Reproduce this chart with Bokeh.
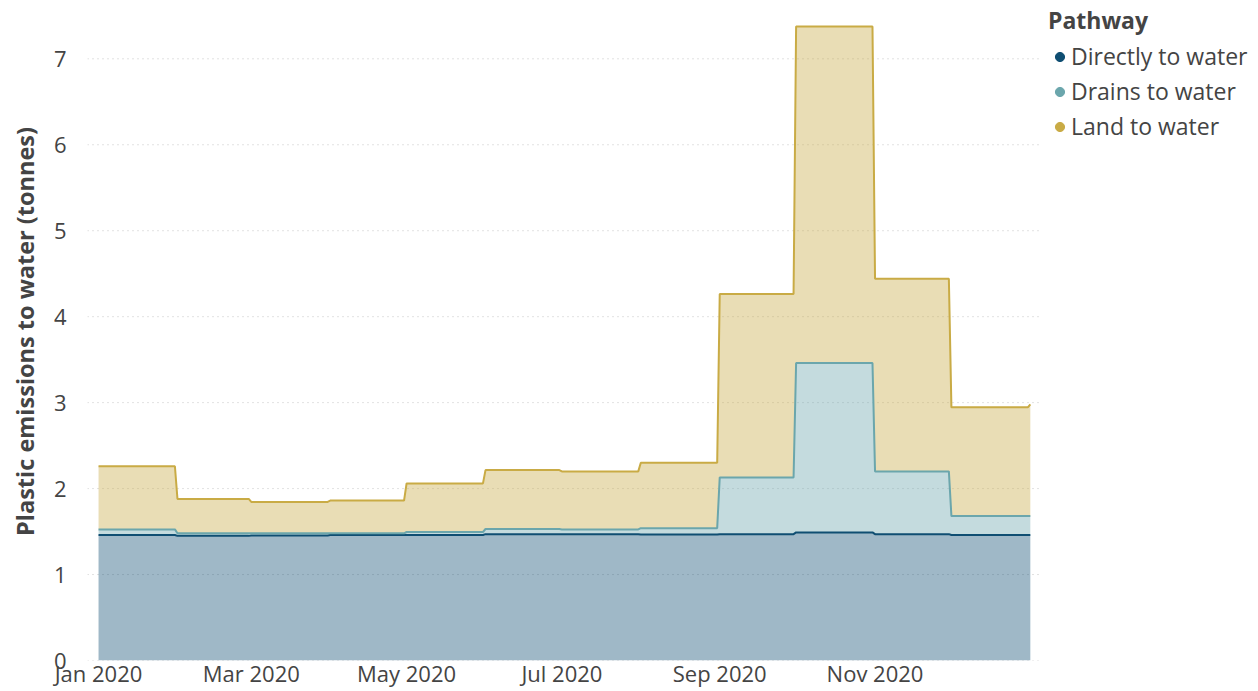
import datetime as dt
from bokeh.plotting import figure
from bokeh.models import (Range1d, Legend, LegendItem, FixedTicker,
                          DatetimeTickFormatter, ColumnDataSource)
from bokeh.embed import file_html
from bokeh.resources import INLINE

# ---------------- data (tonnes per month) ----------------
months = ["2020-01-01", "2020-02-01", "2020-03-01", "2020-04-01", "2020-05-01", "2020-06-01",
          "2020-07-01", "2020-08-01", "2020-09-01", "2020-10-01", "2020-11-01", "2020-12-01"]
period_end = "2021-01-01"

pathways = ["Directly to water", "Drains to water", "Land to water"]
direct = [1.46, 1.45, 1.455, 1.46, 1.46, 1.47, 1.47, 1.465, 1.47, 1.49, 1.47, 1.46]
drains = [0.065, 0.03, 0.025, 0.02, 0.035, 0.06, 0.055, 0.075, 0.66, 1.97, 0.73, 0.22]
land = [0.735, 0.40, 0.365, 0.38, 0.565, 0.685, 0.675, 0.76, 2.135, 3.915, 2.24, 1.265]
# values on the final day of the series
last_values = [1.46, 0.22, 1.30]

y_ticks = [0, 1, 2, 3, 4, 5, 6, 7]
x_tick_dates = ["2020-01-01", "2020-03-01", "2020-05-01", "2020-07-01", "2020-09-01", "2020-11-01"]

colors = ["#0f4e72", "#6ba6ac", "#c9ab45"]
FONT = "Open Sans"
TXT = "#444444"

# ---------------- build step series (flat within each month) ----------------
starts = [dt.datetime.fromisoformat(m) for m in months]
ends = starts[1:] + [dt.datetime.fromisoformat(period_end)]
xs = []
vals = [[], [], []]
for i, s in enumerate(starts):
    last_day = ends[i] - dt.timedelta(days=1)
    xs += [s, last_day]
    for k, ser in enumerate([direct, drains, land]):
        vals[k] += [ser[i], ser[i]]
xs.append(dt.datetime.fromisoformat(period_end))
for k in range(3):
    vals[k].append(last_values[k])

base = [0.0] * len(xs)
layers = []
for k in range(3):
    top = [b + v for b, v in zip(base, vals[k])]
    layers.append((list(base), top))
    base = top

# ---------------- figure ----------------
# plotted time domain (with a little padding), and the wider frame that also holds the legend
domain_start = dt.datetime(2019, 12, 27, 16)
domain_end = dt.datetime(2021, 1, 4, 5)
px_per_day = 951 / ((domain_end - domain_start).total_seconds() / 86400)
frame_end = domain_start + dt.timedelta(days=(1258 - 87) / px_per_day)

p = figure(width=1258, height=691, output_backend="svg", toolbar_location=None,
           x_axis_type="datetime",
           x_range=Range1d(domain_start, frame_end),
           y_range=Range1d(0, 7.655),
           min_border_left=87, min_border_right=0, min_border_top=2, min_border_bottom=31)
p.outline_line_color = None
p.background_fill_color = "white"

# dotted horizontal grid limited to the plotted domain
p.xgrid.visible = False
p.ygrid.visible = False
p.segment(x0=[domain_start] * len(y_ticks), x1=[domain_end] * len(y_ticks),
          y0=y_ticks, y1=y_ticks, line_color="#c4c4c4", line_dash="1 4", line_width=1)

for k in range(3):
    b, t = layers[k]
    src = ColumnDataSource(dict(x=xs, b=b, t=t))
    p.varea(x="x", y1="b", y2="t", source=src, fill_color=colors[k], fill_alpha=0.4)
for k in range(3):
    b, t = layers[k]
    src = ColumnDataSource(dict(x=xs, t=t))
    p.line(x="x", y="t", source=src, line_color=colors[k], line_width=2)

# axes
p.xaxis.ticker = FixedTicker(ticks=[dt.datetime.fromisoformat(d).timestamp() * 1000 for d in x_tick_dates])
p.xaxis.formatter = DatetimeTickFormatter(days="%b %Y", months="%b %Y", years="%b %Y")
p.yaxis.ticker = FixedTicker(ticks=y_ticks)
for ax in [p.xaxis[0], p.yaxis[0]]:
    ax.axis_line_color = None
    ax.major_tick_line_color = None
    ax.minor_tick_line_color = None
    ax.major_tick_out = 0
    ax.major_tick_in = 0
    ax.major_label_text_font = FONT
    ax.major_label_text_font_size = "22px"
    ax.major_label_text_color = TXT
p.xaxis.major_label_standoff = -3
p.yaxis.major_label_standoff = 21
p.yaxis.axis_label = "Plastic emissions to water (tonnes)"
p.yaxis.axis_label_text_font = FONT
p.yaxis.axis_label_text_font_size = "23.5px"
p.yaxis.axis_label_text_font_style = "bold"
p.yaxis.axis_label_text_color = TXT
p.yaxis.axis_label_standoff = 10

# legend (dot markers); proxies hold no drawable point
nan = float("nan")
dummies = [p.scatter(x=[nan], y=[nan], size=9, color=c) for c in colors]
legend = Legend(items=[LegendItem(label=n, renderers=[r]) for n, r in zip(pathways, dummies)],
                location=(961, 518), title="Pathway",
                title_text_font=FONT, title_text_font_size="23px", title_text_font_style="bold",
                title_text_color=TXT, title_standoff=4,
                label_text_font=FONT, label_text_font_size="23px", label_text_color=TXT,
                glyph_width=23, glyph_height=23, label_standoff=-1, spacing=3,
                padding=0, margin=0, border_line_color=None, background_fill_alpha=0)
p.add_layout(legend)

open("out.html", "w").write(file_html(p, INLINE))
